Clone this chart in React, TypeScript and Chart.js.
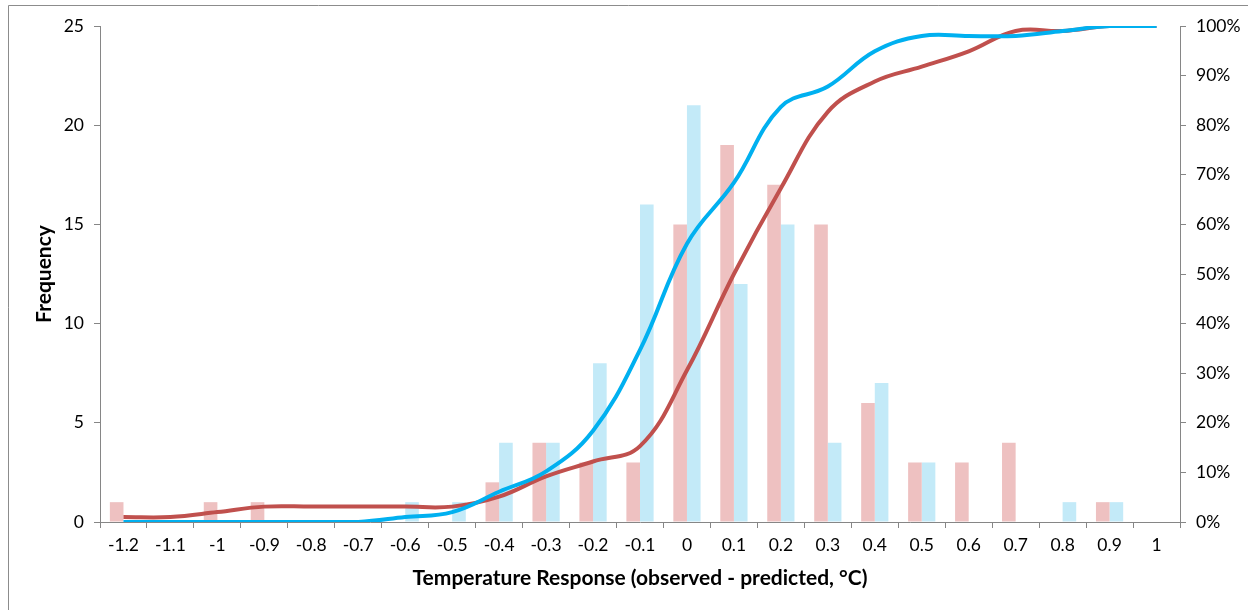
import React, { useEffect, useRef } from 'react';
import { Chart, registerables } from 'chart.js';

Chart.register(...registerables);

// x categories (temperature response bins)
const categories = [
  '-1.2', '-1.1', '-1', '-0.9', '-0.8', '-0.7', '-0.6', '-0.5', '-0.4', '-0.3', '-0.2', '-0.1',
  '0', '0.1', '0.2', '0.3', '0.4', '0.5', '0.6', '0.7', '0.8', '0.9', '1',
];

// frequency per bin
const redFreq = [1, 0, 1, 1, 0, 0, 0, 0, 2, 4, 3, 3, 15, 19, 17, 15, 6, 3, 3, 4, 0, 1, 0];
const blueFreq = [0, 0, 0, 0, 0, 0, 1, 1, 4, 4, 8, 16, 21, 12, 15, 4, 7, 3, 0, 0, 1, 1, 0];

// cumulative share (%)
const redCum = [1, 1, 2, 3.1, 3.1, 3.1, 3.1, 3.1, 5.1, 9.2, 12.2, 15.3, 30.6, 50, 67.3, 82.7, 88.8, 91.8, 94.9, 99, 99, 100, 100];
const blueCum = [0, 0, 0, 0, 0, 0, 1, 2, 6.1, 10.2, 18.4, 34.7, 56.1, 68.4, 83.7, 87.8, 94.9, 98, 98, 98, 99, 100, 100];

const freqTicks = [0, 5, 10, 15, 20, 25];

const AXIS = '#868686';
const TEXT = '#000000';
const FONT = 'Lato';

const framePlugin = {
  id: 'frame',
  beforeDraw(chart: Chart) {
    const { ctx } = chart;
    ctx.save();
    ctx.fillStyle = '#ffffff';
    ctx.fillRect(0, 0, chart.width, chart.height);
    ctx.strokeStyle = '#8c8c8c';
    ctx.lineWidth = 1;
    ctx.beginPath();
    ctx.moveTo(8.5, chart.height);
    ctx.lineTo(8.5, 5.5);
    ctx.lineTo(chart.width, 5.5);
    ctx.stroke();
    ctx.restore();
  },
};

const App: React.FC = () => {
  const canvasRef = useRef<HTMLCanvasElement>(null);

  useEffect(() => {
    if (!canvasRef.current) return;
    const chart = new Chart(canvasRef.current, {
      type: 'bar',
      data: {
        labels: categories,
        datasets: [
          {
            type: 'bar',
            data: redFreq,
            backgroundColor: '#EEC1C1',
            yAxisID: 'y',
            order: 3,
            categoryPercentage: 0.58,
            barPercentage: 1,
          },
          {
            type: 'bar',
            data: blueFreq,
            backgroundColor: '#C3EAF8',
            yAxisID: 'y',
            order: 3,
            categoryPercentage: 0.58,
            barPercentage: 1,
          },
          {
            type: 'line',
            data: redCum,
            borderColor: '#C0504D',
            borderWidth: 4,
            pointRadius: 0,
            tension: 0.4,
            fill: false,
            yAxisID: 'y1',
            order: 2,
          },
          {
            type: 'line',
            data: blueCum,
            borderColor: '#00B0F0',
            borderWidth: 4,
            pointRadius: 0,
            tension: 0.4,
            fill: false,
            yAxisID: 'y1',
            order: 1,
          },
        ],
      } as any,
      options: {
        animation: false,
        responsive: true,
        maintainAspectRatio: false,
        layout: { padding: { top: 26, left: 0, right: 0, bottom: 0 } },
        plugins: {
          legend: { display: false },
          tooltip: { enabled: false },
        },
        scales: {
          x: {
            grid: {
              display: true,
              drawOnChartArea: false,
              drawTicks: true,
              tickLength: 6,
              color: AXIS,
              offset: true,
            },
            border: { display: true, color: AXIS, width: 1 },
            ticks: {
              color: TEXT,
              font: { family: FONT, size: 17.5 },
              padding: 7,
              maxRotation: 0,
              autoSkip: false,
            },
            title: {
              display: true,
              text: 'Temperature Response (observed - predicted, °C)',
              color: TEXT,
              font: { family: FONT, size: 21, weight: 'bold' },
              padding: { top: 0, bottom: 19 },
            },
            afterFit(scale: any) {
              scale.height = 88;
            },
          },
          y: {
            position: 'left',
            min: 0,
            max: 25,
            afterBuildTicks(scale: any) {
              scale.ticks = freqTicks.map((v) => ({ value: v }));
            },
            grid: {
              display: true,
              drawOnChartArea: false,
              drawTicks: true,
              tickLength: 6,
              color: AXIS,
            },
            border: { display: true, color: AXIS, width: 1 },
            ticks: {
              color: TEXT,
              font: { family: FONT, size: 17.5 },
              padding: 10,
            },
            title: {
              display: true,
              text: 'Frequency',
              color: TEXT,
              font: { family: FONT, size: 21, weight: 'bold' },
              padding: { top: 32, bottom: 0 },
            },
            afterFit(scale: any) {
              scale.width = 100;
            },
          },
          y1: {
            position: 'right',
            min: 0,
            max: 100,
            grid: {
              display: true,
              drawOnChartArea: false,
              drawTicks: true,
              tickLength: 6,
              color: AXIS,
            },
            border: { display: true, color: AXIS, width: 1 },
            ticks: {
              stepSize: 10,
              color: TEXT,
              font: { family: FONT, size: 17.5 },
              padding: 10,
              callback: (v: any) => `${v}%`,
            },
            afterFit(scale: any) {
              scale.width = 68;
            },
          },
        },
      },
      plugins: [framePlugin],
    });
    return () => chart.destroy();
  }, []);

  return (
    <div style={{ position: 'fixed', left: 0, top: 0, width: 1248, height: 610 }}>
      <canvas ref={canvasRef} />
    </div>
  );
};

export default App;
